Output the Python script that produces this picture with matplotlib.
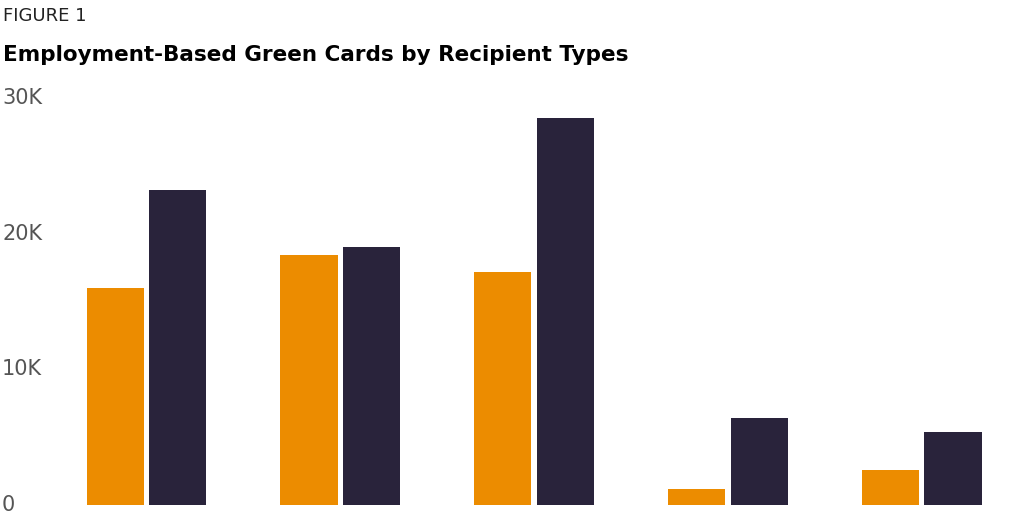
import matplotlib.pyplot as plt
import numpy as np

# values (thousands of green cards)
groups = ['G1', 'G2', 'G3', 'G4', 'G5']
series_a = [16.0, 18.45, 17.2, 1.15, 2.55]
series_b = [23.2, 19.0, 28.5, 6.4, 5.4]
ticks = [0, 10, 20, 30]
tick_labels = ['0', '10K', '20K', '30K']

orange = '#ec8c00'
dark = '#29233b'
fam = ['Liberation Sans Narrow', 'DejaVu Sans']

fig = plt.figure(figsize=(10.24, 5.12), dpi=100)
ax = fig.add_axes([0, 7 / 512, 1, (512 - 98 - 7) / 512])

x = np.arange(len(groups))
w = 0.294
off = 0.16
ax.bar(x - off, series_a, width=w, color=orange)
ax.bar(x + off, series_b, width=w, color=dark)

ax.set_xlim(-0.753, 4.526)
ax.set_ylim(0, 30)
ax.axis('off')

for t, lab in zip(ticks, tick_labels):
    ax.text(0.002, t, lab, transform=ax.get_yaxis_transform(), ha='left',
            va='center', fontsize=15, color='#555555', family=fam)

fig.text(0.003, 0.968, 'FIGURE 1', fontsize=13, va='center', ha='left',
         family=fam, color='#222222')
fig.text(0.003, 0.893, 'Employment-Based Green Cards by Recipient Types',
         fontsize=15.5, fontweight='bold', va='center', ha='left', family=fam,
         color='black')

fig.savefig('out.png', dpi=100)
